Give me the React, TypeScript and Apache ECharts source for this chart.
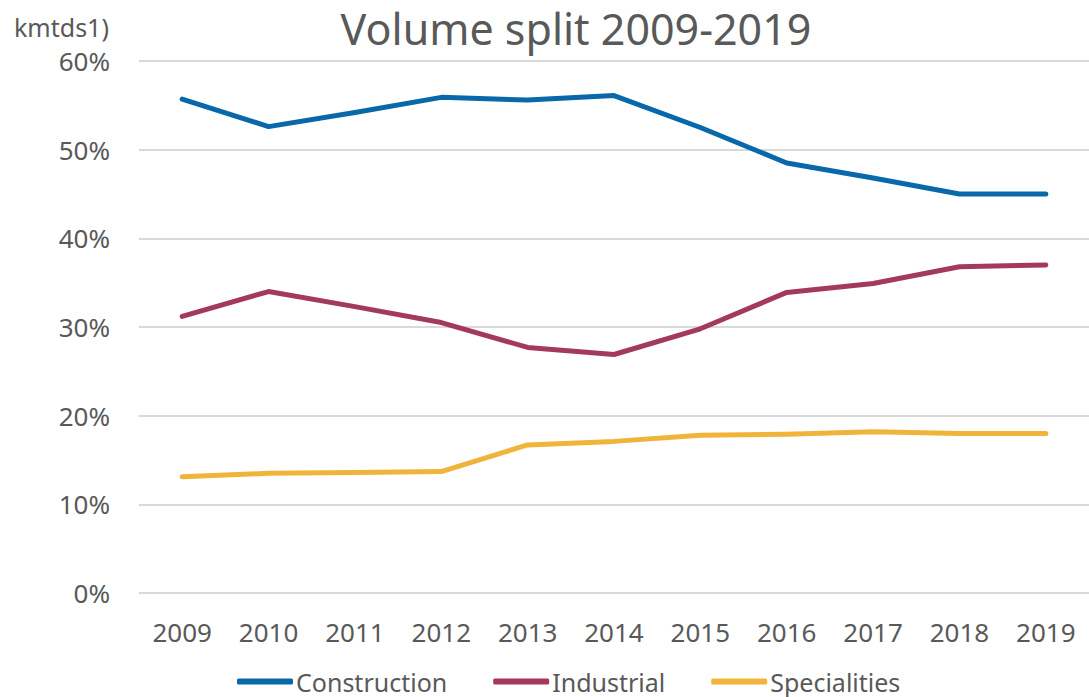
import React, { useEffect, useRef } from "react";
import * as echarts from "echarts";

const years = ["2009", "2010", "2011", "2012", "2013", "2014", "2015", "2016", "2017", "2018", "2019"];
const construction = [55.7, 52.6, 54.2, 55.9, 55.6, 56.1, 52.5, 48.5, 46.8, 45.0, 45.0];
const industrial = [31.2, 34.0, 32.3, 30.5, 27.7, 26.9, 29.8, 33.9, 34.9, 36.8, 37.0];
const specialities = [13.1, 13.5, 13.6, 13.7, 16.7, 17.1, 17.8, 17.9, 18.2, 18.0, 18.0];
const seriesNames = ["Construction", "Industrial", "Specialities"];
const colors = ["#0868A9", "#A33A5B", "#F1B43B"];

const FONT = "'Noto Sans', sans-serif";

export default function App() {
  const ref = useRef<HTMLDivElement>(null);
  useEffect(() => {
    if (!ref.current) return;
    const chart = echarts.init(ref.current, null, { renderer: "svg" });
    const data = [construction, industrial, specialities];
    chart.setOption({
      animation: false,
      backgroundColor: "#ffffff",
      textStyle: { fontFamily: FONT },
      title: {
        text: "Volume split 2009-2019",
        left: 571,
        top: 2,
        textAlign: "center",
        textStyle: { fontSize: 43, fontWeight: "normal", color: "#595959", fontFamily: FONT },
      },
      graphic: [
        {
          type: "text",
          left: 14,
          top: 14,
          style: { text: "kmtds1)", fontSize: 25, fill: "#595959", fontFamily: FONT },
        },
      ],
      legend: {
        left: 232,
        top: 664,
        icon: "roundRect",
        itemWidth: 56,
        itemHeight: 6,
        itemGap: 46,
        textStyle: { fontSize: 25, lineHeight: 25, color: "#595959", fontFamily: FONT, padding: [0, 0, 0, -2] },
        data: seriesNames,
      },
      grid: { left: 139, top: 61, width: 963, height: 532, containLabel: false },
      xAxis: {
        type: "category",
        data: years,
        boundaryGap: true,
        axisLine: { show: false },
        axisTick: { show: false },
        axisLabel: { fontSize: 26, color: "#595959", margin: 26, fontFamily: FONT },
      },
      yAxis: {
        type: "value",
        min: 0,
        max: 60,
        interval: 10,
        axisLine: { show: false },
        axisTick: { show: false },
        axisLabel: { fontSize: 26, color: "#595959", margin: 29, formatter: "{value}%", fontFamily: FONT },
        splitLine: { lineStyle: { color: "#D9D9D9", width: 2 } },
      },
      series: seriesNames.map((n, i) => ({
        name: n,
        type: "line",
        data: data[i],
        symbol: "none",
        color: colors[i],
        lineStyle: { width: 5, color: colors[i], cap: "round", join: "round" },
      })),
    });
    return () => chart.dispose();
  }, []);
  return (
    <div
      ref={ref}
      style={{ position: "fixed", left: 0, top: 0, width: 1089, height: 697 }}
    />
  );
}
